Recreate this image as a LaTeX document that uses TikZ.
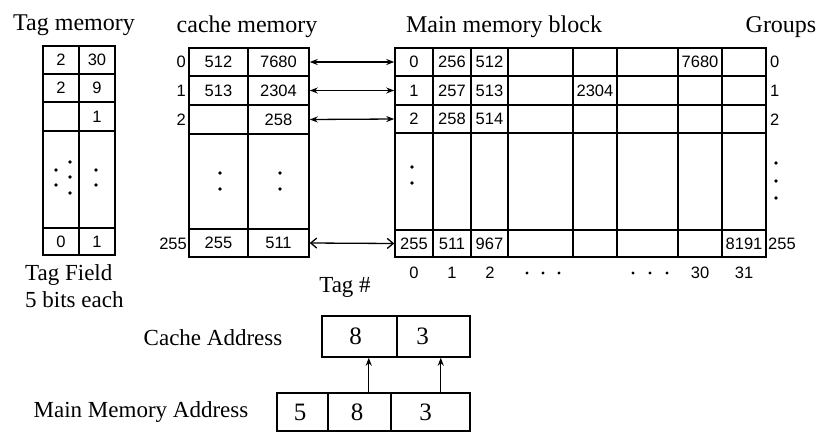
\documentclass[tikz,border=0pt]{standalone}
\usepackage{fontspec}
\setmainfont{Liberation Serif}
\newfontfamily\numfont{Liberation Sans}
\usetikzlibrary{arrows.meta,calc}
\tikzset{
  cell/.style={draw, line width=1.5pt, inner sep=0pt, font=\numfont\fontsize{16.5}{16.5}\selectfont},
  abox/.style={draw, line width=1.5pt, inner sep=0pt, font=\fontsize{25}{25}\selectfont},
  num/.style={inner sep=0pt, font=\numfont\fontsize{16.5}{16.5}\selectfont},
  ttl/.style={inner sep=0pt, anchor=base, font=\fontsize{24}{24}\selectfont},
  lbl/.style={inner sep=0pt, anchor=base, font=\fontsize{23}{23}\selectfont},
  dotmark/.style={fill, circle, inner sep=0pt, minimum size=3.6pt},
  biarrow/.style={line width=1.3pt, {Stealth[length=8pt,width=6pt]}-{Stealth[length=8pt,width=6pt]}},
  barbarrow/.style={line width=1.3pt, {Straight Barb[length=6pt,width=10pt]}-{Straight Barb[length=6pt,width=10pt]}},
  uparrow/.style={line width=1.4pt, -{Stealth[length=8pt,width=6pt]}}
}
\newcommand\cellbox[7][cell]{%
  \pgfmathsetmacro\cw{#5-#3}\pgfmathsetmacro\ch{#6-#4}%
  \node[#1, minimum width=\cw pt, minimum height=\ch pt] (#2) at ({(#3+#5)/2},{(#4+#6)/2}) {#7};}
\begin{document}
\begin{tikzpicture}[x=1pt,y=-1pt]
\useasboundingbox (0,0) rectangle (820,432);
\fill[white] (0,0) rectangle (820,432);

% ---------- titles ----------
\node[ttl] (tTag) at (74,30) {Tag memory};
\node[ttl] (tCache) at (247,32) {cache memory};
\node[ttl] (tMain) at (504,32) {Main memory block};
\node[ttl] (tGroups) at (781,32) {Groups};

% ---------- tag memory ----------
\cellbox{ta0}{43}{46}{79}{74}{2}
\cellbox{tb0}{79}{46}{115}{74}{30}
\cellbox{ta1}{43}{74}{79}{102}{2}
\cellbox{tb1}{79}{74}{115}{102}{9}
\cellbox{ta2}{43}{102}{79}{131}{}
\cellbox{tb2}{79}{102}{115}{131}{1}
\cellbox{tad}{43}{131}{79}{228}{}
\cellbox{tbd}{79}{131}{115}{228}{}
\cellbox{taz}{43}{228}{79}{255}{0}
\cellbox{tbz}{79}{228}{115}{255}{1}
\foreach \px/\py [count=\i] in {70/162,56/170,70/177,56/185,70/193,96/170,96/185}
  \node[dotmark] (tdot\i) at (\px,\py) {};
\node[lbl, anchor=base west] (tagfield) at (25,280) {Tag Field};
\node[lbl, anchor=base west] (bits) at (25,307) {5 bits each};

% ---------- cache memory ----------
\cellbox{ca0}{189}{48}{248}{76}{512}
\cellbox{cb0}{248}{48}{309}{76}{7680}
\cellbox{ca1}{189}{76}{248}{105}{513}
\cellbox{cb1}{248}{76}{309}{105}{2304}
\cellbox{ca2}{189}{105}{248}{134}{}
\cellbox{cb2}{248}{105}{309}{134}{258}
\cellbox{cad}{189}{134}{248}{229}{}
\cellbox{cbd}{248}{134}{309}{229}{}
\cellbox{caz}{189}{229}{248}{257}{255}
\cellbox{cbz}{248}{229}{309}{257}{511}
\foreach \px/\py [count=\i] in {220/173,220/189,280/173,280/189}
  \node[dotmark] (cdot\i) at (\px,\py) {};
\node[num, anchor=east] (cl0) at (186,62) {0};
\node[num, anchor=east] (cl1) at (186,91) {1};
\node[num, anchor=east] (cl2) at (186,120) {2};
\node[num, anchor=east] (clz) at (187,244) {255};
\node[lbl] (tagno) at (345,292) {Tag \#};

% ---------- main memory block ----------
\foreach \xa/\xb/\t [count=\i] in {395/433/0,433/471/256,471/508/512,508/573/{},573/617/{},617/678/{},678/722/7680,722/766/{}}
  {\cellbox{m0\i}{\xa}{48}{\xb}{76}{\t}}
\foreach \xa/\xb/\t [count=\i] in {395/433/1,433/471/257,471/508/513,508/573/{},573/617/2304,617/678/{},678/722/{},722/766/{}}
  {\cellbox{m1\i}{\xa}{76}{\xb}{105}{\t}}
\foreach \xa/\xb/\t [count=\i] in {395/433/2,433/471/258,471/508/514,508/573/{},573/617/{},617/678/{},678/722/{},722/766/{}}
  {\cellbox{m2\i}{\xa}{105}{\xb}{133}{\t}}
\foreach \xa/\xb/\t [count=\i] in {395/433/{},433/471/{},471/508/{},508/573/{},573/617/{},617/678/{},678/722/{},722/766/{}}
  {\cellbox{md\i}{\xa}{133}{\xb}{230}{\t}}
\foreach \xa/\xb/\t [count=\i] in {395/433/255,433/471/511,471/508/967,508/573/{},573/617/{},617/678/{},678/722/{},722/766/8191}
  {\cellbox{mz\i}{\xa}{230}{\xb}{257}{\t}}
\node[dotmark] (mdot1) at (412,167) {};
\node[dotmark] (mdot2) at (412,183) {};

% groups labels
\node[num, anchor=west] (g0) at (770,62) {0};
\node[num, anchor=west] (g1) at (770,91) {1};
\node[num, anchor=west] (g2) at (770,120) {2};
\foreach \py [count=\i] in {163,181,198}
  \node[dotmark] (gdot\i) at (776,\py) {};
\node[num, anchor=west] (gz) at (768,244) {255};

% column labels
\node[num] (k0) at (414,273) {0};
\node[num] (k1) at (452,273) {1};
\node[num] (k2) at (490,273) {2};
\foreach \px [count=\i] in {527,543,559}
  \node[dotmark, minimum size=3.2pt] (kdl\i) at (\px,273) {};
\foreach \px [count=\i] in {633,650,667}
  \node[dotmark, minimum size=3.2pt] (kdr\i) at (\px,273) {};
\node[num] (k30) at (700,273) {30};
\node[num] (k31) at (744,273) {31};

% ---------- connectors cache <-> main ----------
\draw[biarrow] (cb0.east) -- (m01.west);
\draw[biarrow] (cb1.east) -- (m11.west);
\draw[biarrow] (cb2.east) -- (m21.west);
\draw[barbarrow] (cbz.east) -- (mz1.west);

% ---------- addresses ----------
\node[lbl] (cacheaddr) at (213,345) {Cache Address};
\cellbox[abox]{caA}{322}{316}{397}{357}{\hspace*{-8pt}8}
\cellbox[abox]{caB}{397}{316}{470}{357}{\hspace*{-22pt}3}
\node[lbl] (mainaddr) at (141,417) {Main Memory Address};
\cellbox[abox]{maA}{277}{393}{328}{431}{\hspace*{-5pt}5}
\cellbox[abox]{maB}{328}{393}{391}{431}{\hspace*{-5pt}8}
\cellbox[abox]{maC}{391}{393}{470}{431}{\hspace*{-10pt}3}
\draw[uparrow] ([xshift=-23pt]maB.north east) -- ([xshift=-23pt]maB.north east |- caA.south);
\draw[uparrow] ([xshift=-30pt]maC.north east) -- ([xshift=-30pt]maC.north east |- caB.south);
\end{tikzpicture}
\end{document}
